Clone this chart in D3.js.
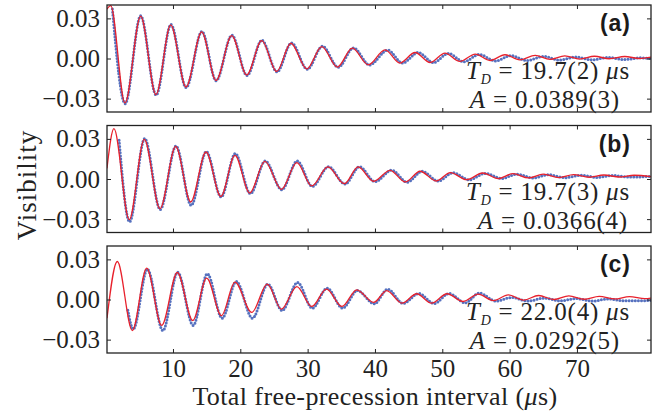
<!DOCTYPE html>
<html>
<head>
<meta charset="utf-8">
<script src="https://cdn.jsdelivr.net/npm/d3@7"></script>
<style>
  body { margin: 0; background: #fff; }
  svg { display: block; }
  text { font-family: "Liberation Serif", serif; fill: #222; }
</style>
</head>
<body>
<svg id="chart" width="658" height="414"></svg>
<script>
// extrema: [time (us), visibility]
const fitA = [[0.2, 0.037], [0.75, 0.0395], [2.87, -0.0332], [5.2, 0.0317], [7.47, -0.027], [9.66, 0.0251],
  [11.93, -0.0213], [14.26, 0.0199], [16.39, -0.0164], [18.72, 0.0171], [20.95, -0.0123], [23.18, 0.0134],
  [25.4, -0.0097], [27.5, 0.0114], [29.87, -0.0077], [32.1, 0.0089], [34.4, -0.0064], [36.64, 0.0077],
  [39.0, -0.0047], [41.5, 0.0065], [43.7, -0.0034], [45.96, 0.0045], [48.2, -0.003], [50.4, 0.004],
  [52.6, -0.0022], [54.9, 0.0033], [57.1, -0.0015], [59.3, 0.0028], [61.5, -0.001], [63.8, 0.0024],
  [66.0, -0.0007], [68.2, 0.002], [70.4, -0.0004], [72.6, 0.0017], [74.8, -0.0002], [77.1, 0.0015],
  [79.3, 0.0], [81, 0.001]];
const dataA = [[1.0, 0.037], [2.9, -0.0338], [5.2, 0.032], [7.5, -0.0274], [9.7, 0.0255], [11.95, -0.0218],
  [14.3, 0.0203], [16.4, -0.0166], [18.75, 0.0174], [21.0, -0.0127], [23.2, 0.0137], [25.45, -0.01],
  [27.6, 0.0117], [29.95, -0.008], [32.2, 0.0092], [34.55, -0.0066], [36.8, 0.0079], [39.2, -0.0048],
  [41.9, 0.0063], [44.1, -0.0034], [46.4, 0.0045], [48.7, -0.0031], [50.9, 0.0038], [53.2, -0.0024],
  [55.5, 0.003], [57.9, -0.0018], [60.2, 0.0022], [62.6, -0.0015], [65.0, 0.0016], [67.4, -0.0012],
  [69.8, 0.0011], [72.2, -0.001], [74.6, 0.0008], [77.0, -0.0008], [79.4, 0.0005], [81, -0.0002]];

const fitB = [[0.2, 0.008], [1.23, 0.0376], [3.5, -0.0304], [5.74, 0.0297], [8.07, -0.0222], [10.4, 0.0244],
  [12.63, -0.0172], [14.9, 0.0202], [17.1, -0.013], [19.2, 0.0177], [21.4, -0.0105], [23.65, 0.0132],
  [26.1, -0.0077], [28.4, 0.0122], [30.6, -0.0052], [33.0, 0.009], [35.45, -0.0035], [37.5, 0.009],
  [39.8, -0.0017], [42.25, 0.0065], [44.5, -0.0022], [46.7, 0.0058], [49.1, -0.0015], [51.2, 0.0048],
  [53.6, -0.0005], [56.0, 0.0045], [58.3, 0.0003], [60.5, 0.004], [62.8, 0.0008], [65.0, 0.0036],
  [67.3, 0.0011], [69.5, 0.0033], [71.8, 0.0013], [74.0, 0.003], [76.3, 0.0015], [78.5, 0.0028], [81, 0.0017]];
const dataB = [[2.0, 0.029], [3.55, -0.032], [5.8, 0.0303], [8.1, -0.0228], [10.45, 0.0247], [12.7, -0.0197],
  [14.95, 0.0205], [17.15, -0.0135], [19.25, 0.019], [21.5, -0.011], [23.7, 0.0135], [26.15, -0.008],
  [28.45, 0.0135], [30.7, -0.0055], [33.1, 0.0092], [35.55, -0.0038], [37.7, 0.0092], [40.0, -0.002],
  [42.5, 0.0066], [44.8, -0.0024], [47.0, 0.0058], [49.4, -0.0016], [51.6, 0.0047], [54.0, -0.0006],
  [56.4, 0.0042], [58.8, 0.0004], [61.1, 0.0036], [63.5, 0.0008], [65.8, 0.0032], [68.2, 0.001],
  [70.6, 0.0028], [73.0, 0.0012], [75.4, 0.0026], [77.8, 0.0014], [81, 0.002]];

const fitC = [[0.2, -0.014], [1.73, 0.0284], [3.96, -0.0232], [6.09, 0.0234], [8.32, -0.0194], [10.64, 0.0202],
  [12.93, -0.0157], [15.0, 0.016], [17.2, -0.012], [19.2, 0.013], [21.7, -0.0097], [24.0, 0.0115],
  [26.1, -0.0072], [28.4, 0.0097], [30.6, -0.0052], [32.8, 0.0077], [35.1, -0.0052], [37.3, 0.0072],
  [39.8, -0.0022], [41.75, 0.0067], [44.0, -0.0027], [46.2, 0.0043], [48.4, -0.0027], [50.7, 0.0043],
  [53.1, -0.0015], [55.3, 0.004], [57.6, -0.0008], [59.8, 0.0034], [62.1, -0.0004], [64.3, 0.003],
  [66.6, 0.0], [68.8, 0.0027], [71.1, 0.0002], [73.3, 0.0024], [75.6, 0.0004], [77.8, 0.0022],
  [80.1, 0.0006], [81, 0.001]];
const dataC = [[3.3, -0.008], [4.1, -0.0222], [6.2, 0.0227], [8.5, -0.0232], [10.7, 0.0204], [13.0, -0.0194],
  [15.1, 0.0192], [17.3, -0.014], [19.4, 0.0135], [21.8, -0.014], [24.1, 0.0115], [26.2, -0.0082],
  [28.5, 0.0127], [30.7, -0.0065], [32.9, 0.0085], [35.2, -0.0065], [37.4, 0.0067], [39.9, -0.0032],
  [41.9, 0.0077], [44.2, -0.003], [46.5, 0.0045], [48.8, -0.003], [51.0, 0.0045], [53.4, -0.0025],
  [55.5, 0.0048], [58.0, -0.0012], [60.3, 0.0015], [62.7, -0.0012], [65.1, 0.001], [67.5, -0.001],
  [69.9, 0.0007], [72.3, -0.0012], [74.7, 0.0004], [77.1, -0.001], [81, -0.0008]];

const panelNames = ["(a)", "(b)", "(c)"];
const tdLabels = ["19.7(2)", "19.7(3)", "22.0(4)"];
const ampLabels = ["0.0389(3)", "0.0366(4)", "0.0292(5)"];
const xTicks = [10, 20, 30, 40, 50, 60, 70];
const yTicks = [-0.03, 0, 0.03];

const fits = [fitA, fitB, fitC];
const datas = [dataA, dataB, dataC];

const left = 107, right = 651, panelH = 107;
const tops = [5, 125.5, 246];
const red = "#e8212c", blue = "#3858b4";

const svg = d3.select("#chart");
const x = d3.scaleLinear().domain([0.2, 81]).range([left, right]);

const line = d3.line().curve(d3.curveMonotoneX);

tops.forEach((top, i) => {
    const y = d3.scaleLinear().domain([-0.04, 0.04]).range([top + panelH, top]);
    line.x(d => x(d[0])).y(d => y(d[1]));

    const g = svg.append("g");

    g.append("clipPath").attr("id", "clip" + i)
        .append("rect").attr("x", left).attr("y", top).attr("width", right - left).attr("height", panelH);

    const plot = g.append("g").attr("clip-path", `url(#clip${i})`);

    // measured points (dotted)
    plot.append("path")
        .attr("d", line(datas[i]))
        .attr("fill", "none")
        .attr("stroke", blue)
        .attr("stroke-width", 3)
        .attr("stroke-linecap", "round")
        .attr("stroke-dasharray", "0 3.1")
        .style("opacity", 0.85);

    // fit
    plot.append("path")
        .attr("d", line(fits[i]))
        .attr("fill", "none")
        .attr("stroke", red)
        .attr("stroke-width", 1.3);

    // ticks all around, pointing inward
    const fmt = d3.format(".2f");
    const ax = [
        [d3.axisBottom(x).tickValues(xTicks).tickSize(-4).tickPadding(6).tickFormat(i === 2 ? d3.format("d") : ""), `translate(0,${top + panelH})`],
        [d3.axisTop(x).tickValues(xTicks).tickSize(-4).tickFormat(""), `translate(0,${top})`],
        [d3.axisLeft(y).tickValues(yTicks).tickSize(-4).tickPadding(7).tickFormat(fmt), `translate(${left},0)`],
        [d3.axisRight(y).tickValues(yTicks).tickSize(-4).tickFormat(""), `translate(${right},0)`]
    ];
    ax.forEach(([a, tr]) => {
        const s = g.append("g").attr("transform", tr).call(a);
        s.select(".domain").remove();
        s.selectAll("line").attr("stroke", "#222").attr("stroke-width", 1);
        s.selectAll("text")
            .style("font-family", "'Liberation Serif', serif")
            .style("font-size", "25px")
            .style("fill", "#222");
    });

    g.append("rect")
        .attr("x", left).attr("y", top).attr("width", right - left).attr("height", panelH)
        .attr("fill", "none").attr("stroke", "#222").attr("stroke-width", 1.3);

    // panel letter
    g.append("text")
        .attr("x", 631).attr("y", top + 26)
        .attr("text-anchor", "end")
        .style("font-family", "'Liberation Sans', Arial, sans-serif")
        .style("font-weight", "bold")
        .style("font-size", "23px")
        .style("letter-spacing", "1px")
        .style("fill", "#1a1a1a")
        .text(panelNames[i]);

    // fit results
    const t1 = g.append("text").attr("x", 630).attr("y", top + 74)
        .attr("text-anchor", "end").style("font-size", "25px").style("letter-spacing", "0.8px");
    t1.append("tspan").style("font-style", "italic").text("T");
    t1.append("tspan").style("font-style", "italic").style("font-size", "14px")
        .attr("dx", 0).attr("dy", 5).text("D");
    t1.append("tspan").attr("dy", -5).attr("dx", 7).text("= " + tdLabels[i] + " ");
    t1.append("tspan").style("font-style", "italic").text("μ");
    t1.append("tspan").text("s");

    const t2 = g.append("text").attr("x", i === 1 ? 628 : 620).attr("y", top + 103)
        .attr("text-anchor", "end").style("font-size", "25px").style("letter-spacing", "0.8px");
    t2.append("tspan").style("font-style", "italic").text("A");
    t2.append("tspan").attr("dx", 7).text("= " + ampLabels[i]);
});

// axis titles
svg.append("text")
    .attr("x", 375).attr("y", 405)
    .attr("text-anchor", "middle")
    .style("font-size", "26px")
    .style("letter-spacing", "0.4px")
    .call(t => {
        t.append("tspan").text("Total free-precession interval (");
        t.append("tspan").style("font-style", "italic").text("μ");
        t.append("tspan").text("s)");
    });

svg.append("text")
    .attr("transform", "translate(36,185) rotate(-90)")
    .attr("text-anchor", "middle")
    .style("font-size", "27px")
    .style("letter-spacing", "1px")
    .text("Visibility");
</script>
</body>
</html>
